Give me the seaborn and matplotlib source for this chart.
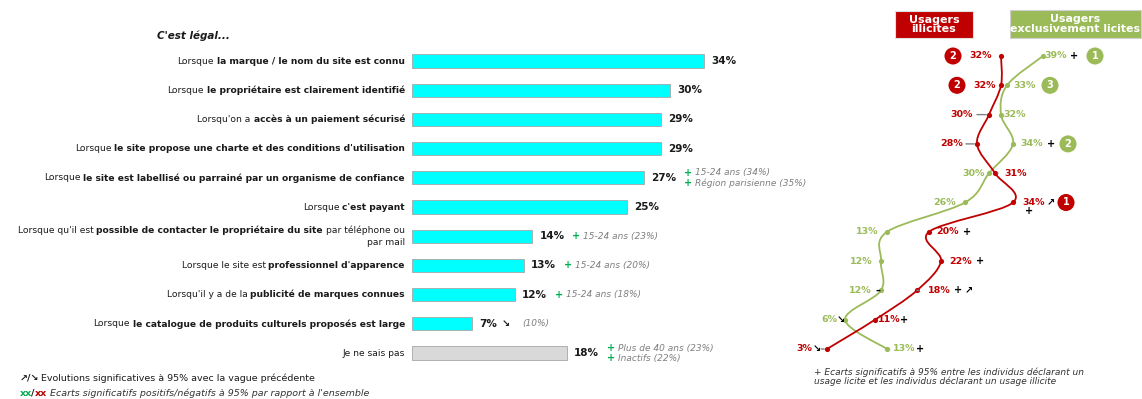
import matplotlib
matplotlib.use("Agg")
import matplotlib.pyplot as plt
import seaborn as sns
import numpy as np
import pandas as pd
from matplotlib.path import Path
from matplotlib.patches import PathPatch, Rectangle
from matplotlib.transforms import IdentityTransform

# ---------------- data ----------------
label_segments = [
    [("Lorsque", "normal"), ("la marque / le nom du site est connu", "bold")],
    [("Lorsque", "normal"), ("le propriétaire est clairement identifié", "bold")],
    [("Lorsqu'on a", "normal"), ("accès à un paiement sécurisé", "bold")],
    [("Lorsque", "normal"), ("le site propose une charte et des conditions d'utilisation", "bold")],
    [("Lorsque", "normal"), ("le site est labellisé ou parrainé par un organisme de confiance", "bold")],
    [("Lorsque", "normal"), ("c'est payant", "bold")],
    [("Lorsque qu'il est", "normal"), ("possible de contacter le propriétaire du site", "bold"),
     ("par téléphone ou", "normal")],
    [("Lorsque le site est", "normal"), ("professionnel d'apparence", "bold")],
    [("Lorsqu'il y a de la", "normal"), ("publicité de marques connues", "bold")],
    [("Lorsque", "normal"), ("le catalogue de produits culturels proposés est large", "bold")],
    [("Je ne sais pas", "normal")],
]
label_second_line = {6: "par mail"}
ensemble = [34, 30, 29, 29, 27, 25, 14, 13, 12, 7, 18]
ensemble_notes = {4: ["15-24 ans (34%)", "Région parisienne (35%)"],
                  6: ["15-24 ans (23%)"], 7: ["15-24 ans (20%)"], 8: ["15-24 ans (18%)"],
                  10: ["Plus de 40 ans (23%)", "Inactifs (22%)"]}
ensemble_evol = {9: ("↘", "(10%)")}

illicites = [32, 32, 30, 28, 31, 34, 20, 22, 18, 11, 3]
licites = [39, 33, 32, 34, 30, 26, 13, 12, 12, 6, 13]
illicites_rank = {0: "2", 1: "2", 5: "1"}
licites_rank = {0: "1", 1: "3", 3: "2"}
illicites_marks = {5: ["↗", "+"], 6: ["+"], 7: ["+"], 8: ["+", "↗"], 9: ["+"], 10: ["↘"]}
licites_marks = {0: ["+"], 3: ["+"], 8: ["–"], 9: ["↘"], 10: ["+"]}

title = "C'est légal..."
head_red = "Usagers\nillicites"
head_green = "Usagers\nexclusivement licites"
foot_right = "+ Ecarts significatifs à 95% entre les individus déclarant un\nusage licite et les individus déclarant un usage illicite"

# ---------------- style ----------------
RED = "#C00000"
GREEN = "#9BBB59"
PLUS_GREEN = "#00B050"
CYAN = "#00FFFF"
GREY_BAR = "#D9D9D9"
TXT = "#1A1A1A"
NOTE = "#7F7F7F"

sns.set_theme(style="white")
plt.rcParams["font.family"] = ["DejaVu Sans"]

W, H = 1142, 399
fig = plt.figure(figsize=(W / 100, H / 100), dpi=100)
PX = IdentityTransform()

def fy(ypx):
    return H - ypx

# ---------------- bar chart ----------------
axb = fig.add_axes([412 / W, (H - 367.6) / H, 344 / W, 321.2 / H])
keys = [f"c{i}" for i in range(len(ensemble))]
df = pd.DataFrame({"cat": keys, "val": ensemble})
pal = {k: (GREY_BAR if i == len(keys) - 1 else CYAN) for i, k in enumerate(keys)}
sns.barplot(data=df, x="val", y="cat", hue="cat", palette=pal, legend=False,
            orient="h", width=0.45, ax=axb, edgecolor="#A6A6A6", linewidth=0.6, saturation=1)
axb.set_xlim(0, 40)
axb.set_ylim(len(keys) - 0.5, -0.5)
axb.axis("off")

renderer = fig.canvas.get_renderer()

def seg_text(x_right, y_disp, segments, size):
    x = x_right
    for s, w in reversed(segments):
        t = fig.text(x, y_disp, s, transform=PX, ha="right", va="center",
                     fontsize=size, fontweight=w, color=TXT)
        bb = t.get_window_extent(renderer)
        x -= bb.width + 3

for i, v in enumerate(ensemble):
    xd, yd = axb.transData.transform((v, i))
    if i in label_second_line:
        seg_text(405, yd + 6, label_segments[i], 6.6)
        fig.text(405, yd - 6, label_second_line[i], transform=PX, ha="right", va="center",
                 fontsize=6.6, color=TXT)
    else:
        seg_text(405, yd, label_segments[i], 6.6)
    axb.annotate(f"{v}%", (v, i), xytext=(7, 0), textcoords="offset pixels",
                 ha="left", va="center", fontsize=7.5, fontweight="bold", color=TXT)
    if i in ensemble_notes:
        lines = ensemble_notes[i]
        n = len(lines)
        for k, line in enumerate(lines):
            dy = (n - 1) * 5 - k * 10
            axb.annotate("+", (v, i), xytext=(44, dy), textcoords="offset pixels",
                         ha="center", va="center", fontsize=7, fontweight="bold", color=PLUS_GREEN)
            axb.annotate(line, (v, i), xytext=(51, dy), textcoords="offset pixels",
                         ha="left", va="center", fontsize=6.5, style="italic", color=NOTE)
    if i in ensemble_evol:
        arr, prev = ensemble_evol[i]
        axb.annotate(arr, (v, i), xytext=(34, 0), textcoords="offset pixels",
                     ha="center", va="center", fontsize=7, fontweight="bold", color=TXT)
        axb.annotate(prev, (v, i), xytext=(50, 0), textcoords="offset pixels",
                     ha="left", va="center", fontsize=6.5, style="italic", color=NOTE)

fig.text(157, fy(36), title, transform=PX, ha="left", va="center", fontsize=7.5,
         fontweight="bold", style="italic", color=TXT)

# bottom-left legend
fig.text(20, fy(378), "↗/↘", transform=PX, ha="left", va="center", fontsize=6.8,
         fontweight="bold", color=TXT)
fig.text(41, fy(378), "Evolutions significatives à 95% avec la vague précédente",
         transform=PX, ha="left", va="center", fontsize=6.8, color=TXT)
fig.text(20, fy(393), "xx", transform=PX, ha="left", va="center", fontsize=6.8,
         fontweight="bold", color=PLUS_GREEN)
fig.text(31, fy(393), "/", transform=PX, ha="left", va="center", fontsize=6.8,
         fontweight="bold", color=TXT)
fig.text(35, fy(393), "xx", transform=PX, ha="left", va="center", fontsize=6.8,
         fontweight="bold", color=RED)
fig.text(50, fy(393), "Ecarts significatifs positifs/négatifs à 95% par rapport à l'ensemble",
         transform=PX, ha="left", va="center", fontsize=6.8, style="italic", color="#333333")

# ---------------- right panel ----------------
axl = fig.add_axes([809 / W, (H - 363.65) / H, 330 / W, 322.3 / H])

rows = np.arange(len(illicites))

def smooth_path(xs, ys):
    pts = np.column_stack([xs, ys]).astype(float)
    ext = np.vstack([pts[0], pts, pts[-1]])
    verts = [tuple(pts[0])]
    codes = [Path.MOVETO]
    for k in range(len(pts) - 1):
        p0, p1, p2, p3 = ext[k], ext[k + 1], ext[k + 2], ext[k + 3]
        c1 = p1 + (p2 - p0) / 6.0
        c2 = p2 - (p3 - p1) / 6.0
        verts += [tuple(c1), tuple(c2), tuple(p2)]
        codes += [Path.CURVE4] * 3
    return Path(verts, codes)

for vals, col in ((licites, GREEN), (illicites, RED)):
    axl.add_patch(PathPatch(smooth_path(vals, rows), fc="none", ec=col, lw=1.3, zorder=2))
    sns.scatterplot(x=vals, y=rows, color=col, s=14, edgecolor=col, linewidth=0, ax=axl, zorder=3)
axl.set_xlim(0, 55)
axl.set_ylim(len(keys) - 0.5, -0.5)
axl.axis("off")

red_layout = {0: -9, 1: -5, 2: -16, 3: -14, 4: 9, 5: 9, 6: 7, 7: 8, 8: 11, 9: 3, 10: -15}
red_leader = {2: (-12, -2), 3: (-11, -2), 4: (3, 7), 8: (2, 9), 10: (-6, -1)}
red_mark_pos = {5: [(38, 0), (16, -9)], 6: [(38, 0)], 7: [(39, 0)], 8: [(41, 0), (52, 0)],
                9: [(29, 0)], 10: [(-10, 0)]}
red_badge_pos = {0: -48, 1: -44, 5: 53}
green_layout = {0: 1, 1: 6, 2: 2, 3: 7, 4: -4, 5: -9, 6: -9, 7: -8, 8: -9, 9: -8, 10: 6}
green_mark_pos = {0: [(31, 0)], 3: [(38, 0)], 8: [(-3, 0)], 9: [(-4, 0)], 10: [(33, 0)]}
green_badge_pos = {0: 52, 1: 43, 3: 55}

def label_series(vals, col, layout, leaders, marks, mark_pos, ranks, badge_pos):
    for i, v in enumerate(vals):
        dx = layout[i]
        axl.annotate(f"{v}%", (v, i), xytext=(dx, 0), textcoords="offset pixels",
                     ha="left" if dx > 0 else "right", va="center", fontsize=6.8,
                     fontweight="bold", color=col, zorder=4)
        if i in leaders:
            a, b = leaders[i]
            axl.annotate("", xy=(v, i), xytext=(a, 0), textcoords="offset pixels",
                         arrowprops=dict(arrowstyle="-", color="#808080", lw=1.0,
                                         shrinkA=0, shrinkB=2))
        if i in marks:
            for m, (mx, my) in zip(marks[i], mark_pos[i]):
                axl.annotate(m, (v, i), xytext=(mx, my), textcoords="offset pixels",
                             ha="center", va="center", fontsize=7, fontweight="bold",
                             color="black", zorder=4)
        if i in ranks:
            axl.annotate(ranks[i], (v, i), xytext=(badge_pos[i], 0), textcoords="offset pixels",
                         ha="center", va="center", fontsize=7, fontweight="bold", color="white",
                         bbox=dict(boxstyle="circle,pad=0.42", fc=col, ec="white", lw=0.8), zorder=5)

label_series(illicites, RED, red_layout, red_leader, illicites_marks, red_mark_pos,
             illicites_rank, red_badge_pos)
label_series(licites, GREEN, green_layout, {}, licites_marks, green_mark_pos,
             licites_rank, green_badge_pos)

# header boxes
fig.add_artist(Rectangle((895, fy(38)), 78, 27, transform=PX, fc=RED, ec="#E0E0E0", lw=0.8))
fig.text(934, fy(24.5), head_red, transform=PX, ha="center", va="center", fontsize=8,
         fontweight="bold", color="white", linespacing=0.95)
fig.add_artist(Rectangle((1010, fy(38)), 131, 28, transform=PX, fc=GREEN, ec="#D0D0D0", lw=0.8))
fig.text(1075.5, fy(24), head_green, transform=PX, ha="center", va="center", fontsize=7.9,
         fontweight="bold", color="white", linespacing=0.95)

fig.text(814, fy(377), foot_right, transform=PX, ha="left", va="center", fontsize=6.5,
         style="italic", color="#333333", linespacing=0.95)

fig.savefig("out.png", dpi=100, facecolor="white")
